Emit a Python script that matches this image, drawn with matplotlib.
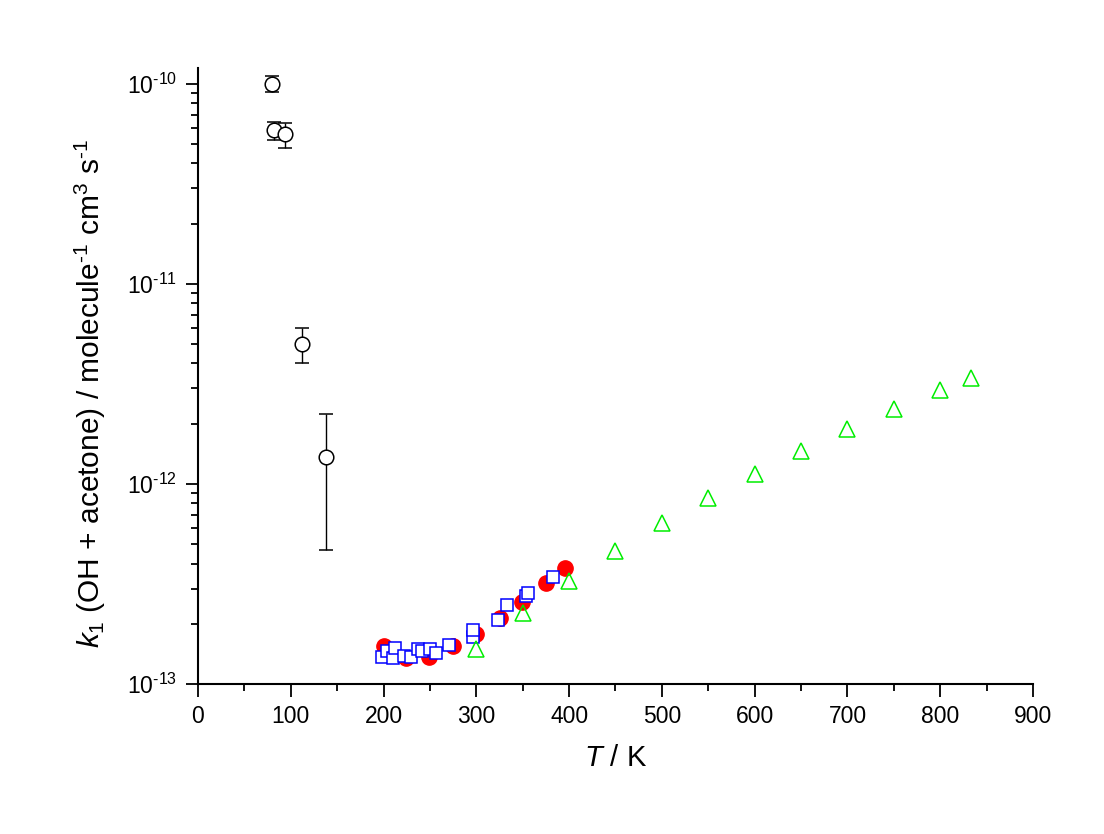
import numpy as np
import matplotlib
matplotlib.use("Agg")
import matplotlib.pyplot as plt
from matplotlib.ticker import LogLocator, FixedLocator, MultipleLocator, FuncFormatter

plt.rcParams["font.family"] = ["Liberation Sans", "DejaVu Sans"]
plt.rcParams["mathtext.fontset"] = "custom"
plt.rcParams["mathtext.rm"] = "Liberation Sans"
plt.rcParams["mathtext.it"] = "Liberation Sans:italic"

# low temperature data with error bars (open circles)
T_low = [79.5, 82, 94, 112.5, 138]
k_low = [1.0e-10, 5.9e-11, 5.6e-11, 5.0e-12, 1.36e-12]
k_low_min = [0.91e-10, 5.25e-11, 4.8e-11, 4.0e-12, 4.7e-13]
k_low_max = [1.10e-10, 6.45e-11, 6.4e-11, 6.0e-12, 2.24e-12]

# red filled circles
T_red = [200, 224, 249, 275, 300, 326, 349, 375, 396]
k_red = [1.54e-13, 1.35e-13, 1.36e-13, 1.54e-13, 1.78e-13, 2.14e-13, 2.57e-13, 3.19e-13, 3.80e-13]

# blue open squares
T_blue = [198, 204, 210, 212, 222, 230, 237, 242, 250, 257, 271, 296, 296, 323, 333, 354, 356, 383]
k_blue = [1.36e-13, 1.46e-13, 1.35e-13, 1.52e-13, 1.38e-13, 1.36e-13, 1.50e-13, 1.46e-13, 1.49e-13,
          1.42e-13, 1.56e-13, 1.71e-13, 1.87e-13, 2.09e-13, 2.48e-13, 2.75e-13, 2.84e-13, 3.44e-13]

# green open triangles
T_green = [300, 350, 400, 450, 500, 550, 600, 650, 700, 750, 800, 833]
k_green = [1.50e-13, 2.26e-13, 3.26e-13, 4.62e-13, 6.38e-13, 8.5e-13, 1.12e-12, 1.46e-12,
           1.88e-12, 2.37e-12, 2.95e-12, 3.39e-12]

fig = plt.figure(figsize=(11.04, 8.34), dpi=100)
ax = fig.add_axes([0.1793, 0.1799, 0.9357 - 0.1793, 0.9185 - 0.1799])

yerr = [np.array(k_low) - np.array(k_low_min), np.array(k_low_max) - np.array(k_low)]
ax.errorbar(T_low, k_low, yerr=yerr, fmt="o", ms=10.5, mfc="white", mec="black", mew=1.1,
            ecolor="black", elinewidth=1.0, capsize=5, capthick=1.0, zorder=3)
ax.plot(T_red, k_red, "o", ms=11, color="red", zorder=2)
ax.plot(T_blue, k_blue, "s", ms=9, mfc="white", mec="blue", mew=1.1, zorder=4)
ax.plot(T_green, k_green, "^", ms=11, mfc="none", mec="#00ee00", mew=1.1, zorder=5)

ax.set_yscale("log")
ax.set_xlim(0, 900)
ax.set_ylim(1e-13, 1.2e-10)

ax.xaxis.set_major_locator(MultipleLocator(100))
ax.xaxis.set_minor_locator(MultipleLocator(50))
ax.yaxis.set_major_locator(FixedLocator([1e-13, 1e-12, 1e-11, 1e-10]))
ax.yaxis.set_minor_locator(LogLocator(base=10, subs=np.arange(2, 10)))
ax.yaxis.set_major_formatter(
    FuncFormatter(lambda v, p: r"10$^{\text{-%d}}$" % abs(round(np.log10(v)))))
ax.yaxis.set_minor_formatter(FuncFormatter(lambda v, p: ""))

for side in ["top", "right"]:
    ax.spines[side].set_visible(False)
for side in ["left", "bottom"]:
    ax.spines[side].set_linewidth(1.5)

ax.tick_params(which="major", direction="out", length=9, width=1.3, labelsize=16.5, pad=6)
ax.tick_params(which="minor", direction="out", length=5, width=1.3)

ax.set_xlabel(r"$T$ / K", fontsize=21, labelpad=12)
ax.set_ylabel(r"$k_1$ (OH + acetone) / molecule$^{\text{-1}}$ cm$^3$ s$^{\text{-1}}$",
              fontsize=21.5)
ax.yaxis.set_label_coords(-0.108, 0.472)

fig.savefig("out.png", dpi=100, facecolor="white")
